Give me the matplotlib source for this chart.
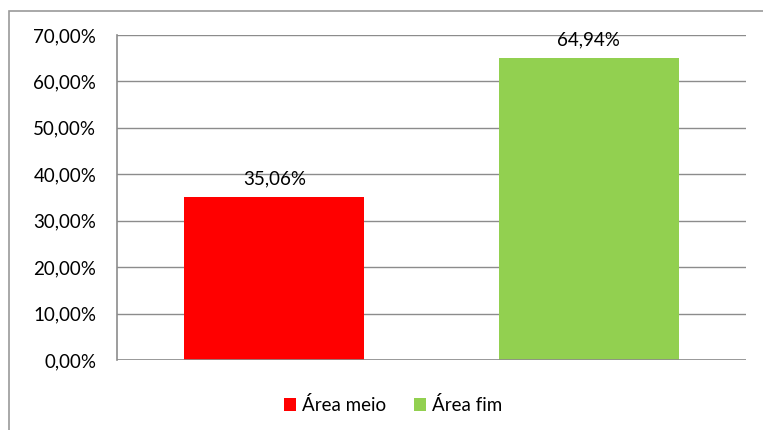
import matplotlib.pyplot as plt
from matplotlib.patches import Rectangle, Patch
from matplotlib.ticker import FuncFormatter

categories = ['Área meio', 'Área fim']
values = [35.06, 64.94]
colors = ['#FF0000', '#92D050']
yticks = [0, 10, 20, 30, 40, 50, 60, 70]

plt.rcParams['font.family'] = ['Lato', 'DejaVu Sans']
fs = 13.5

fig = plt.figure(figsize=(7.63, 4.30), dpi=100)
fig.patches.append(Rectangle((9 / 763, -0.1), 1.2, (430 - 11) / 430 + 0.1,
                             transform=fig.transFigure, fill=False,
                             edgecolor='#9a9a9a', linewidth=1.2))

ax = fig.add_axes([117 / 763, 1 - 360 / 430, (746 - 117) / 763, (360 - 35) / 430])
x = list(range(len(categories)))
bars = ax.bar(x, values, width=0.572, color=colors, zorder=3)

for b, v in zip(bars, values):
    ax.text(b.get_x() + b.get_width() / 2, v + 2.1, f'{v:.2f}%'.replace('.', ','),
            ha='center', va='bottom', fontsize=fs, color='black')

ax.set_xlim(-0.5, 1.5)
ax.set_ylim(0, 70)
ax.set_yticks(yticks)
ax.yaxis.set_major_formatter(FuncFormatter(lambda v, p: f'{v:.2f}%'.replace('.', ',')))
ax.tick_params(axis='y', length=0, pad=15, labelsize=fs)
ax.set_xticks([])
ax.grid(axis='y', color='#8c8c8c', linewidth=1, zorder=0)
for s in ['top', 'right', 'bottom']:
    ax.spines[s].set_visible(False)
ax.spines['left'].set_color('#8c8c8c')
ax.spines['left'].set_linewidth(1.2)
ax.axhline(0, color='#8c8c8c', linewidth=1.2, zorder=4)

handles = [Patch(facecolor=c, label=l) for c, l in zip(colors, categories)]
fig.legend(handles=handles, loc='center', bbox_to_anchor=(393 / 763, 1 - 405 / 430),
           ncol=2, frameon=False, fontsize=fs, handlelength=0.65, handleheight=0.65,
           handletextpad=0.3, columnspacing=1.5)

fig.savefig('out.png', dpi=100)
